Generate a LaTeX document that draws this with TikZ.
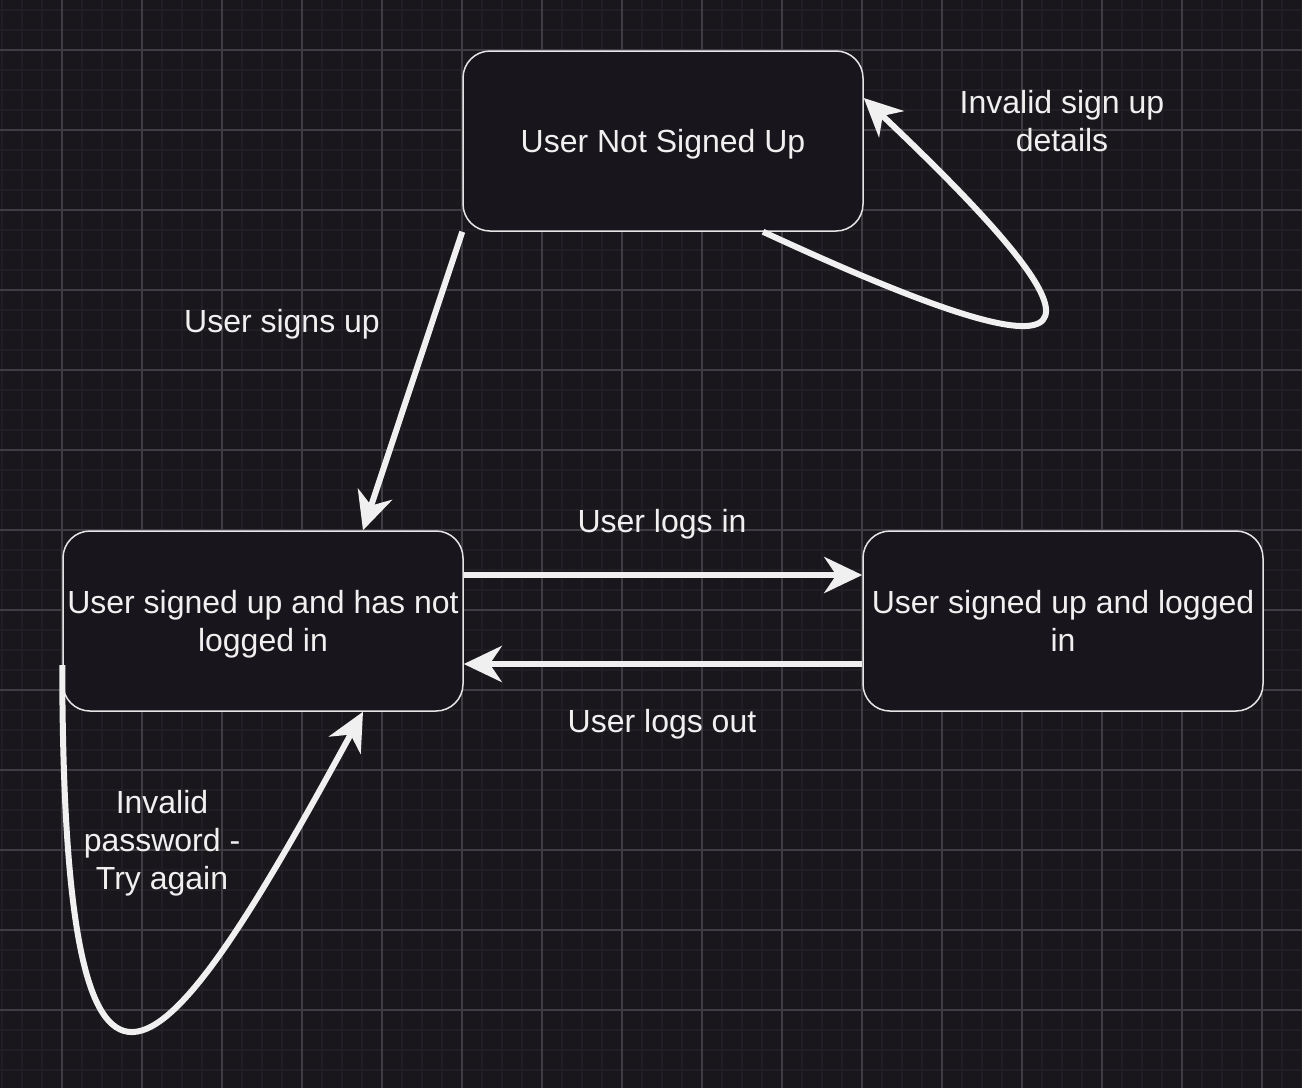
\documentclass[tikz,border=0pt]{standalone}
\usepackage{fontspec}
\setmainfont{Liberation Sans}
\usepackage{tikz}
\usetikzlibrary{arrows.meta, positioning}
\definecolor{canvas}{HTML}{19171C}
\definecolor{minorgrid}{HTML}{211F25}
\definecolor{majorgrid}{HTML}{3F3D43}
\definecolor{boxfill}{HTML}{18151C}
\definecolor{boxline}{HTML}{E6E6E6}
\definecolor{ink}{HTML}{F0F0F0}

\begin{document}
\begin{tikzpicture}[
            x=1pt, y=-1pt,
            >={Stealth[length=38pt,width=36pt,inset=12pt]},
                base/.style = {rectangle, rounded corners=27pt, draw=boxline,
                            line width=1.5pt, fill=boxfill, minimum width=400pt,
                            minimum height=180pt, inner sep=1pt, text=ink,
                            align=center, text depth=0pt,
                            font=\fontsize{32}{38}\selectfont},
                state/.style = {base},
                edgetext/.style = {text=ink, align=center, inner sep=0pt,
                            text depth=0pt, font=\fontsize{32}{38}\selectfont},
                flow/.style = {->, draw=ink, line width=6pt},
                minorline/.style = {draw=minorgrid, line width=2pt},
                majorline/.style = {draw=majorgrid, line width=1.5pt}]
            \useasboundingbox (0,0) rectangle (1302,1088);
            \fill[canvas] (0,0) rectangle (1302,1088);
            \foreach \x in {2,22,...,1302} \draw[minorline] (\x,0) -- (\x,1088);
            \foreach \y in {10,30,...,1088} \draw[minorline] (0,\y) -- (1302,\y);
            \foreach \x in {62,142,...,1302} \draw[majorline] (\x,0) -- (\x,1088);
            \foreach \y in {50,130,...,1088} \draw[majorline] (0,\y) -- (1302,\y);
            \node (notsigned) [state] at (663,141) {%
                User Not Signed Up%
            };
            \node (notlogged) [state] at (263,621) {%
                User signed up and has not\\
                logged in%
            };
            \node (loggedin) [state, right=398.5pt of notlogged] {%
                User signed up and logged\\
                in%
            };
            \node (signsup) [edgetext] at (282,321) {User signs up};
            \node (logsin) [edgetext] at (662,521) {User logs in};
            \node (logsout) [edgetext] at (662,721) {User logs out};
            \node (badsignup) [edgetext] at (1062,121) {%
                Invalid sign up\\
                details%
            };
            \node (badpass) [edgetext] at (162,840) {%
                Invalid\\
                password -\\
                Try again%
            };
            \draw[flow] (notsigned.south west) -- ([xshift=100pt]notlogged.north);
            \draw[flow] ([yshift=46pt]notlogged.east) -- ([yshift=46pt]loggedin.west);
            \draw[flow] ([yshift=-43pt]loggedin.west) -- ([yshift=-43pt]notlogged.east);
            \draw[flow] ([xshift=100pt]notsigned.south)
                .. controls (1105,390) and (1128,348) .. ([yshift=43pt]notsigned.east);
            \draw[flow] ([yshift=-44pt]notlogged.west)
                .. controls (63,1210) and (165,1075) .. ([xshift=100pt]notlogged.south);
        \end{tikzpicture}
\end{document}
